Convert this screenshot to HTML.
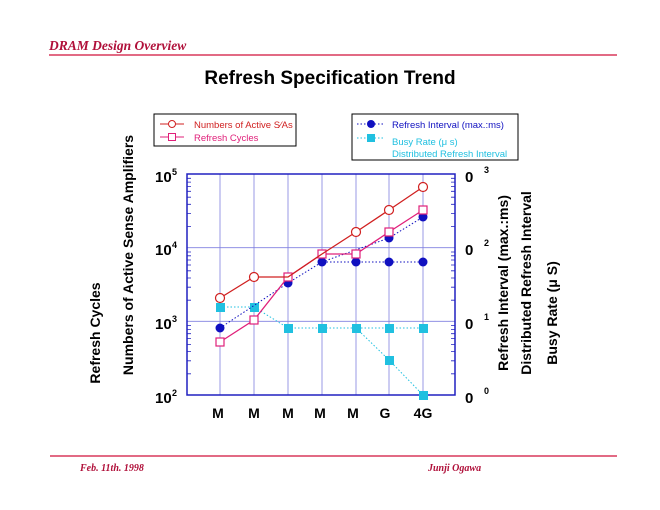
<!DOCTYPE html>
<html><head><meta charset="utf-8"><style>
body{margin:0;background:#fff;}
svg{display:block;font-family:"Liberation Sans",sans-serif;}
</style></head><body>
<svg width="660" height="510" viewBox="0 0 660 510" xmlns="http://www.w3.org/2000/svg">
<text x="49" y="50" font-family="Liberation Serif" font-style="italic" font-weight="bold" font-size="13.5" fill="#b0103a">DRAM Design Overview</text>
<line x1="49" y1="55" x2="617" y2="55" stroke="#d0103a" stroke-width="1.2"/>
<text x="330" y="84" text-anchor="middle" font-weight="bold" font-size="19" fill="#000">Refresh  Specification Trend</text>
<line x1="50" y1="456" x2="617" y2="456" stroke="#d0103a" stroke-width="1.2"/>
<text x="80" y="471" font-family="Liberation Serif" font-style="italic" font-weight="bold" font-size="10" fill="#b0103a">Feb.  11th. 1998</text>
<text x="428" y="471" font-family="Liberation Serif" font-style="italic" font-weight="bold" font-size="10" fill="#b0103a">Junji  Ogawa</text>

<rect x="154" y="114" width="142" height="32" fill="#fff" stroke="#000" stroke-width="1"/>
<line x1="160" y1="124" x2="184" y2="124" stroke="#d02020"/><circle cx="172" cy="124" r="3.5" fill="#fff" stroke="#d02020"/>
<text x="194" y="128" font-size="9.5" fill="#d02020">Numbers of Active S∕As</text>
<line x1="160" y1="137" x2="184" y2="137" stroke="#e0207a"/><rect x="168.5" y="133.5" width="7" height="7" fill="#fff" stroke="#e0207a"/>
<text x="194" y="141" font-size="9.5" fill="#e0207a">Refresh  Cycles</text>

<rect x="352" y="114" width="166" height="46" fill="#fff" stroke="#000" stroke-width="1"/>
<line x1="357" y1="124" x2="385" y2="124" stroke="#1010c0" stroke-dasharray="1.5,2"/><circle cx="371" cy="124" r="4" fill="#1010c0"/>
<text x="392" y="128" font-size="9.5" fill="#1010c0">Refresh Interval (max.:ms)</text>
<line x1="357" y1="138" x2="385" y2="138" stroke="#20c0e0" stroke-dasharray="1.5,2"/><rect x="367" y="134" width="8" height="8" fill="#20c0e0"/>
<text x="392" y="145" font-size="9.5" fill="#20c0e0">Busy Rate (μ s)</text>
<text x="392" y="157" font-size="9.5" fill="#20c0e0">Distributed Refresh Interval</text>

<g stroke="#8080e0" stroke-width="0.8">
<line x1="220" y1="174" x2="220" y2="395"/><line x1="254" y1="174" x2="254" y2="395"/><line x1="288" y1="174" x2="288" y2="395"/><line x1="322" y1="174" x2="322" y2="395"/><line x1="356" y1="174" x2="356" y2="395"/><line x1="389" y1="174" x2="389" y2="395"/><line x1="423" y1="174" x2="423" y2="395"/>
<line x1="187" y1="247.7" x2="455" y2="247.7"/><line x1="187" y1="321.3" x2="455" y2="321.3"/>
</g>
<rect x="187" y="174" width="268" height="221" fill="none" stroke="#2020c0" stroke-width="1.5"/>
<g stroke="#2020c0" stroke-width="0.8">
<path d="M187 226.5h4M187 213.5h4M187 204.3h4M187 197.2h4M187 191.3h4M187 186.4h4M187 182.1h4M187 178.3h4
M187 300.2h4M187 287.2h4M187 278h4M187 270.8h4M187 265h4M187 260h4M187 255.8h4M187 252h4
M187 373.8h4M187 360.8h4M187 351.6h4M187 344.5h4M187 338.6h4M187 333.7h4M187 329.4h4M187 325.6h4
M455 226.5h-4M455 213.5h-4M455 204.3h-4M455 197.2h-4M455 191.3h-4M455 186.4h-4M455 182.1h-4M455 178.3h-4
M455 300.2h-4M455 287.2h-4M455 278h-4M455 270.8h-4M455 265h-4M455 260h-4M455 255.8h-4M455 252h-4
M455 373.8h-4M455 360.8h-4M455 351.6h-4M455 344.5h-4M455 338.6h-4M455 333.7h-4M455 329.4h-4M455 325.6h-4" fill="none"/>
</g>
<g font-weight="bold" font-size="15" fill="#000">
<text x="155" y="182">10</text><text x="172" y="175" font-size="9">5</text>
<text x="155" y="255">10</text><text x="172" y="248" font-size="9">4</text>
<text x="155" y="329">10</text><text x="172" y="322" font-size="9">3</text>
<text x="155" y="403">10</text><text x="172" y="396" font-size="9">2</text>
<text x="465" y="182">0</text><text x="484" y="173" font-size="9">3</text>
<text x="465" y="255">0</text><text x="484" y="246" font-size="9">2</text>
<text x="465" y="329">0</text><text x="484" y="320" font-size="9">1</text>
<text x="465" y="403">0</text><text x="484" y="394" font-size="9">0</text>
</g>
<g font-weight="bold" font-size="14" fill="#000" text-anchor="middle">
<text x="218" y="418">M</text><text x="254" y="418">M</text><text x="288" y="418">M</text><text x="320" y="418">M</text><text x="353" y="418">M</text><text x="385" y="418">G</text><text x="423" y="418">4G</text>
</g>
<g font-weight="bold" font-size="14" fill="#000" text-anchor="middle">
<text transform="translate(100,333) rotate(-90)">Refresh Cycles</text>
<text transform="translate(133,255) rotate(-90)">Numbers of Active Sense Amplifiers</text>
<text transform="translate(508,283) rotate(-90)">Refresh Interval (max.:ms)</text>
<text transform="translate(531,283) rotate(-90)">Distributed Refresh Interval</text>
<text transform="translate(557,313) rotate(-90)">Busy Rate (μ S)</text>
</g>

<g stroke="#20c0e0" stroke-dasharray="1.5,2" fill="none" stroke-width="1">
<polyline points="220,307 254,307 288,328 322,328 356,328 389,328 423,328"/>
<polyline points="356,328 389,360 423,395"/>
</g>
<g fill="#20c0e0">
<rect x="216" y="303" width="9" height="9"/><rect x="250" y="303" width="9" height="9"/><rect x="284" y="324" width="9" height="9"/><rect x="318" y="324" width="9" height="9"/><rect x="352" y="324" width="9" height="9"/><rect x="385" y="324" width="9" height="9"/><rect x="419" y="324" width="9" height="9"/><rect x="385" y="356" width="9" height="9"/><rect x="419" y="391" width="9" height="9"/>
</g>
<g stroke="#1010c0" stroke-dasharray="1.5,2" fill="none" stroke-width="1">
<polyline points="220,328 288,283 322,262 356,262 389,262 423,262"/>
<polyline points="322,262 389,238 423,217"/>
</g>
<g fill="#1010c0">
<circle cx="220" cy="328" r="4.5"/><circle cx="288" cy="283" r="4.5"/><circle cx="322" cy="262" r="4.5"/><circle cx="356" cy="262" r="4.5"/><circle cx="389" cy="262" r="4.5"/><circle cx="423" cy="262" r="4.5"/><circle cx="389" cy="238" r="4.5"/><circle cx="423" cy="217" r="4.5"/>
</g>
<polyline points="220,342 254,320 288,277 322,254 356,254 389,232 423,210" fill="none" stroke="#e0207a" stroke-width="1.3"/>
<g fill="#fff" stroke="#e0207a" stroke-width="1.2">
<rect x="216" y="338" width="8" height="8"/><rect x="250" y="316" width="8" height="8"/><rect x="284" y="273" width="8" height="8"/><rect x="318" y="250" width="8" height="8"/><rect x="352" y="250" width="8" height="8"/><rect x="385" y="228" width="8" height="8"/><rect x="419" y="206" width="8" height="8"/>
</g>
<polyline points="220,298 254,277 288,277 322,254 356,232 389,210 423,187" fill="none" stroke="#d02020" stroke-width="1.3"/>
<g fill="#fff" stroke="#d02020" stroke-width="1.2">
<circle cx="220" cy="298" r="4.5"/><circle cx="254" cy="277" r="4.5"/><circle cx="356" cy="232" r="4.5"/><circle cx="389" cy="210" r="4.5"/><circle cx="423" cy="187" r="4.5"/>
</g>
</svg>
</body></html>
